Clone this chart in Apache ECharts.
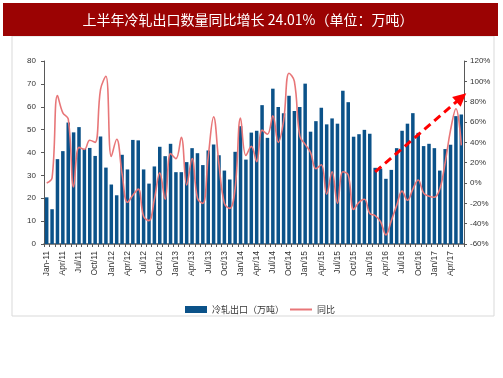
<!DOCTYPE html>
<html>
<head>
<meta charset="utf-8">
<script src="https://cdn.jsdelivr.net/npm/echarts@6/dist/echarts.min.js"></script>
<style>
html,body{margin:0;padding:0;background:#fff;}
#c{width:503px;height:378px;}
</style>
</head>
<body>
<div id="c"></div>
<script>
var titleText = '上半年冷轧出口数量同比增长 24.01%（单位：万吨）';
var monthNames = ['Jan','Feb','Mar','Apr','May','Jun','Jul','Aug','Sep','Oct','Nov','Dec'];
var years = ['11','12','13','14','15','16','17'];
var barName = '冷轧出口（万吨）';
var lineName = '同比';

var exportVolume = [
  20.4,15.2,37.1,40.6,53.1,48.8,51.1,41.6,42.0,38.5,47.0,33.4,
  26.0,21.3,39.0,32.6,45.5,45.3,32.6,26.4,33.9,42.5,38.4,43.8,
  31.4,31.4,35.8,41.9,39.7,34.5,40.9,43.5,38.8,32.1,28.2,40.3,
  51.5,36.9,48.7,49.5,60.7,46.4,67.9,59.9,57.2,64.8,58.1,59.9,
  70.1,49.1,53.7,59.6,52.3,54.9,52.6,67.0,62.0,46.9,48.0,49.9,
  48.2,33.3,33.0,28.5,32.4,41.9,49.5,52.6,57.2,48.6,42.8,43.8,
  41.9,32.1,41.5,43.4,55.9,56.6
];
var yoy = [
  0,5,86,69,63,-4,35,33,42,40,92,105,
  26,43,9,-19,-12,-6,-33,-37,-16,10,-16,29,
  24,45,-2,24,-15,-20,26,65,18,-20,-25,-5,
  64,27,36,21,52,48,66,40,61,108,100,46,
  38,30,14,18,-11,11,-20,11,8,-26,-19,-16,
  -30,-32,-38,-51,-37,-22,-8,-17,-6,3,-10,-13,
  -14,-6,20,52,73,37
];
var arrowStart = ['Feb/16', 11];
var arrowEnd = ['Jun/17', 84];

var categories = [];
for (var yi = 0; yi < years.length; yi++) {
  for (var mi = 0; mi < 12; mi++) {
    if (categories.length >= exportVolume.length) break;
    var sep = categories.length < 2 ? '-' : '/';
    categories.push(monthNames[mi] + sep + years[yi]);
  }
}

var font = '"Liberation Sans", Arial, "Noto Sans CJK SC", sans-serif';
var cjk = '"Noto Sans CJK SC", sans-serif';
var chart = echarts.init(document.getElementById('c'), null, {renderer: 'canvas'});
chart.setOption({
  animation: false,
  textStyle: {fontFamily: font},
  graphic: [
    {type: 'rect', shape: {x: 12, y: 36, width: 482, height: 280}, style: {fill: 'none', stroke: '#d9d9d9', lineWidth: 1}, z: 0},
    {type: 'rect', shape: {x: 3, y: 3, width: 495, height: 33}, style: {fill: '#9b0303'}, z: 1},
    {type: 'text', x: 248, y: 20, style: {text: titleText, fill: '#ffffff', font: '14px ' + cjk, textAlign: 'center', textVerticalAlign: 'middle'}, z: 2}
  ],
  legend: [
    {
      left: 180, top: 300,
      itemWidth: 22, itemHeight: 7,
      textStyle: {fontSize: 9, color: '#333', fontFamily: cjk},
      data: [{name: barName, icon: 'rect'}]
    },
    {
      left: 285, top: 300,
      itemWidth: 22, itemHeight: 2,
      textStyle: {fontSize: 9, color: '#333', fontFamily: cjk},
      data: [{name: lineName, icon: 'rect'}]
    }
  ],
  grid: {left: 44, right: 39, top: 61, bottom: 134, containLabel: false},
  xAxis: {
    type: 'category',
    data: categories,
    boundaryGap: true,
    axisLine: {lineStyle: {color: '#595959', width: 1.5}},
    axisTick: {show: true, interval: 0, length: 3, lineStyle: {color: '#595959'}},
    axisLabel: {interval: 2, rotate: 90, fontSize: 8.5, color: '#333', margin: 7, fontFamily: font}
  },
  yAxis: [
    {
      type: 'value', min: 0, max: 80, interval: 10,
      axisLine: {show: true, lineStyle: {color: '#595959'}},
      axisTick: {show: true, length: 3, lineStyle: {color: '#595959'}},
      axisLabel: {fontSize: 8, color: '#333', margin: 8},
      splitLine: {show: false}
    },
    {
      type: 'value', min: -60, max: 120, interval: 20,
      axisLine: {show: true, lineStyle: {color: '#595959'}},
      axisTick: {show: true, length: 3, lineStyle: {color: '#595959'}},
      axisLabel: {fontSize: 8, color: '#333', margin: 6, formatter: '{value}%'},
      splitLine: {show: false}
    }
  ],
  series: [
    {
      name: barName, type: 'bar', data: exportVolume, yAxisIndex: 0,
      barCategoryGap: '35%',
      itemStyle: {color: '#0b5289'}
    },
    {
      name: lineName, type: 'line', data: yoy, yAxisIndex: 1,
      smooth: 0.4, symbol: 'none', showSymbol: false,
      lineStyle: {color: '#e87678', width: 1.6},
      itemStyle: {color: '#e87678'},
      z: 3,
      markLine: {
        silent: true,
        symbol: ['none', 'triangle'],
        symbolSize: [13, 13],
        label: {show: false},
        lineStyle: {color: '#ff0000', width: 3, type: [8, 5]},
        data: [[{coord: arrowStart}, {coord: arrowEnd}]],
        z: 5
      }
    }
  ]
});
</script>
</body>
</html>
